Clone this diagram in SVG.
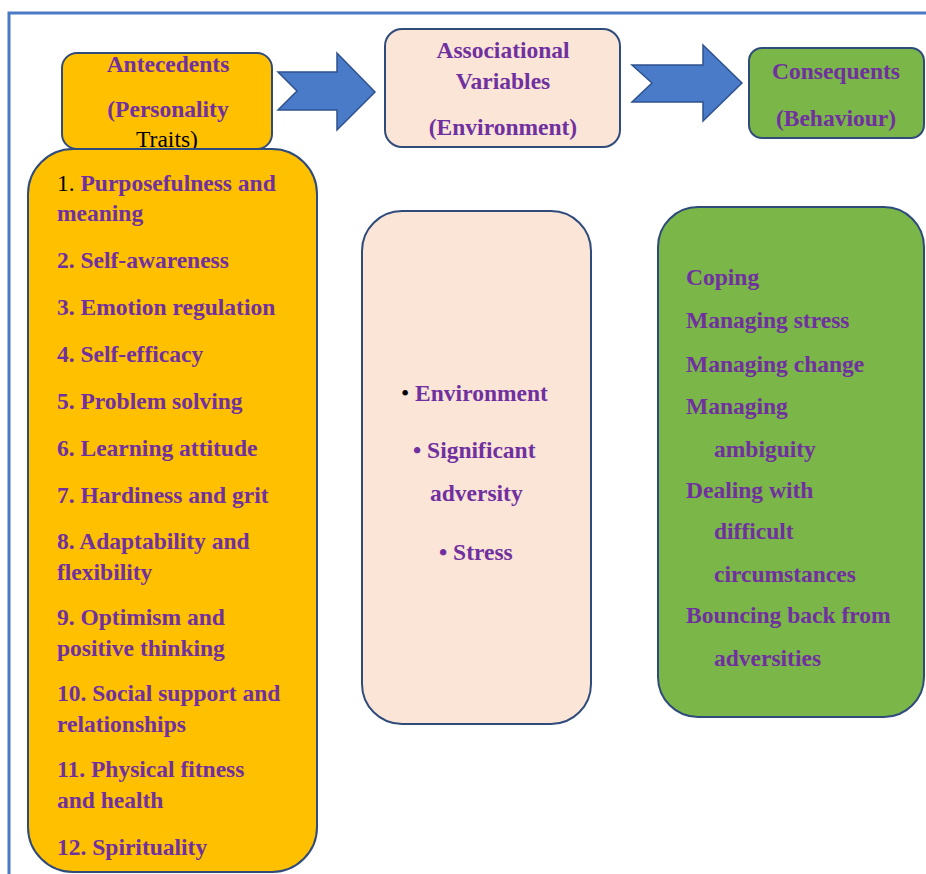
<svg xmlns="http://www.w3.org/2000/svg" width="926" height="874" viewBox="0 0 926 874">
  <style>
    .box { stroke: #2F4B7C; stroke-width: 2; }
    .yellow { fill: #FFC000; }
    .pink { fill: #FBE5D6; }
    .green { fill: #7AB648; }
    .arrow { fill: #4A7BC8; stroke: #2F528F; stroke-width: 1.5; stroke-linejoin: miter; }
    text { font-family: "Liberation Serif", "Times New Roman", serif; font-size: 23.5px; }
    .p { fill: #7030A0; font-weight: bold; }
    .k { fill: #000000; font-weight: normal; }
    .c { text-anchor: middle; }
  </style>

  <rect width="926" height="874" fill="#FFFFFF"/>
  <!-- outer frame -->
  <path d="M 9 874 L 9 13 L 926 13" fill="none" stroke="#4A7AC4" stroke-width="3"/>

  <!-- connectors -->
  <g id="connectors">
    <polygon class="arrow" points="278,72 337,72 337,53 375,92 337,130 337,110 278,110 297,91"/>
    <polygon class="arrow" points="632,65 703,65 703,45 742,83 703,121 703,102 632,102 652,83"/>
  </g>

  <g id="antecedents-header">
    <rect class="box yellow" x="62" y="53" width="210" height="96" rx="15"/>
    <text class="p c" x="168" y="72">Antecedents</text>
    <text class="p c" x="168" y="117">(Personality</text>
    <text class="k c" x="167" y="147">Traits)</text>
  </g>

  <g id="associational-header">
    <rect class="box pink" x="385" y="29" width="235" height="118" rx="17"/>
    <text class="p c" x="503" y="58">Associational</text>
    <text class="p c" x="503" y="89">Variables</text>
    <text class="p c" x="503" y="135">(Environment)</text>
  </g>

  <g id="consequents-header">
    <rect class="box green" x="749" y="48" width="175" height="90" rx="13"/>
    <text class="p c" x="836" y="79">Consequents</text>
    <text class="p c" x="836" y="126">(Behaviour)</text>
  </g>

  <g id="antecedents-list">
    <rect class="box yellow" x="28" y="149" width="289" height="723" rx="45"/>
    <text x="57" y="191"><tspan class="k">1. </tspan><tspan class="p">Purposefulness and</tspan></text>
    <text class="p" x="57" y="221">meaning</text>
    <text class="p" x="57" y="268">2. Self-awareness</text>
    <text class="p" x="57" y="315">3. Emotion regulation</text>
    <text class="p" x="57" y="362">4. Self-efficacy</text>
    <text class="p" x="57" y="409">5. Problem solving</text>
    <text class="p" x="57" y="456">6. Learning attitude</text>
    <text class="p" x="57" y="503">7. Hardiness and grit</text>
    <text class="p" x="57" y="549">8. Adaptability and</text>
    <text class="p" x="57" y="580">flexibility</text>
    <text class="p" x="57" y="625">9. Optimism and</text>
    <text class="p" x="57" y="656">positive thinking</text>
    <text class="p" x="57" y="701">10. Social support and</text>
    <text class="p" x="57" y="732">relationships</text>
    <text class="p" x="57" y="777">11. Physical fitness</text>
    <text class="p" x="57" y="808">and health</text>
    <text class="p" x="57" y="855">12. Spirituality</text>
  </g>

  <g id="associational-list">
    <rect class="box pink" x="362" y="211" width="229" height="513" rx="40"/>
    <text x="401" y="401"><tspan class="k">• </tspan><tspan class="p">Environment</tspan></text>
    <text class="p" x="413" y="458">• Significant</text>
    <text class="p" x="430" y="501">adversity</text>
    <text class="p" x="439" y="560">• Stress</text>
  </g>

  <g id="consequents-list">
    <rect class="box green" x="658" y="207" width="266" height="510" rx="40"/>
    <text class="p" x="686" y="285">Coping</text>
    <text class="p" x="686" y="328">Managing stress</text>
    <text class="p" x="686" y="372">Managing change</text>
    <text class="p" x="686" y="414">Managing</text>
    <text class="p" x="714" y="457">ambiguity</text>
    <text class="p" x="686" y="498">Dealing with</text>
    <text class="p" x="714" y="539">difficult</text>
    <text class="p" x="714" y="582">circumstances</text>
    <text class="p" x="686" y="623">Bouncing back from</text>
    <text class="p" x="714" y="666">adversities</text>
  </g>
</svg>
